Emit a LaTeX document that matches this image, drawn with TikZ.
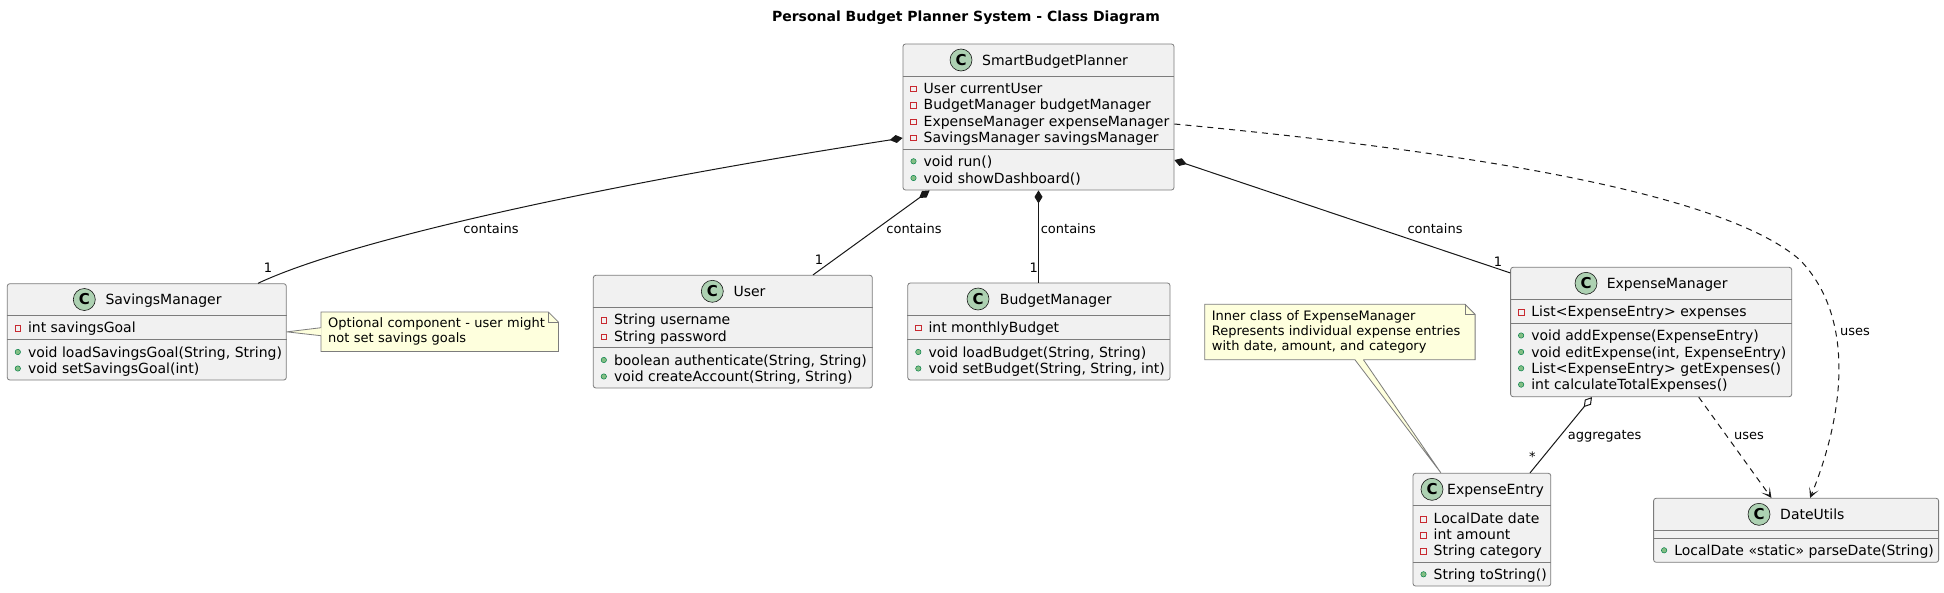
\documentclass[tikz,border=0pt]{standalone}
\usepackage{fontspec}
\setmainfont{DejaVu Sans}
\usetikzlibrary{arrows.meta,backgrounds}
\definecolor{boxfill}{HTML}{F1F1F1}
\definecolor{linec}{HTML}{181818}
\definecolor{boxdraw}{HTML}{7C7C7C}
\definecolor{iconfill}{HTML}{ADD1B2}
\definecolor{notefill}{HTML}{FEFFDD}
\definecolor{privc}{HTML}{C82930}
\definecolor{pubfill}{HTML}{84BE84}
\definecolor{pubdraw}{HTML}{038048}
\newcounter{mc}
\newcommand\umlmember[4]{%
  \stepcounter{mc}%
  \if#3p\path[fill=pubfill,draw=pubdraw,line width=0.5pt] (#1+10.5,#2) circle[radius=2.7];%
  \else\draw[privc,line width=0.8pt] (#1+7.7,#2-2) rectangle (#1+13.3,#2+3.6);\fi
  \node[member] (mem\arabic{mc}) at (#1+20.5,#2+5) {#4};}
\tikzset{
  classbox/.style={draw=boxdraw, line width=0.8pt, fill=boxfill, rounded corners=2.5pt, inner sep=0pt},
  sepline/.style={draw=boxdraw, line width=0.8pt},
  cicon/.style={circle, draw=linec, line width=0.6pt, fill=iconfill, minimum size=22pt, inner sep=0pt, font=\fontsize{15}{15}\selectfont\bfseries},
  cname/.style={anchor=base west, inner sep=0pt, font=\fontsize{14}{16}\selectfont},
  member/.style={anchor=base west, inner sep=0pt, font=\fontsize{14}{16}\selectfont},
  elabel/.style={inner sep=0pt, font=\fontsize{13}{15}\selectfont},
  notebox/.style={anchor=north west, inner xsep=7pt, inner ysep=0pt, align=left, font=\fontsize{13}{15}\selectfont},
  notepath/.style={fill=notefill, draw=boxdraw, line width=0.8pt},
  compo/.style={draw=linec, line width=1pt, {Diamond[length=13pt,width=8pt]}-},
  aggr/.style={draw=linec, line width=1pt, {Diamond[length=13pt,width=8pt,fill=white]}-},
  dep/.style={draw=linec, line width=1pt, dash pattern=on 6pt off 5pt, -{Stealth[length=10pt,width=10pt,inset=6pt]}},
}
\begin{document}
\begin{tikzpicture}[x=1pt,y=-1pt]
\begin{pgfonlayer}{background}
\fill[white] (0,0) rectangle (1944,592);
\end{pgfonlayer}
\useasboundingbox (0,0) rectangle (1944,592);

\node[font=\fontsize{14}{16}\selectfont\bfseries, inner sep=0pt] (title) at (966,18) {Personal Budget Planner System - Class Diagram};

% ---------- SmartBudgetPlanner ----------
\node[classbox, minimum width=271pt, minimum height=146pt] (spb) at (1038.5,117) {};
\draw[sepline] (spb.west |- 0,76) -- (spb.east |- 0,76);
\draw[sepline] (spb.west |- 0,149.5) -- (spb.east |- 0,149.5);
\node[cicon] (spbicon) at (961,60) {C};
\node[cname] (spbname) at (982,65) {SmartBudgetPlanner};
\umlmember{903}{88}{v}{User currentUser}
\umlmember{903}{104.5}{v}{BudgetManager budgetManager}
\umlmember{903}{121}{v}{ExpenseManager expenseManager}
\umlmember{903}{137}{v}{SavingsManager savingsManager}
\umlmember{903}{161.3}{p}{void run()}
\umlmember{903}{178}{p}{void showDashboard()}

% ---------- SavingsManager ----------
\node[classbox, minimum width=279pt, minimum height=96.3pt] (sav) at (146.8,331.85) {};
\draw[sepline] (sav.west |- 0,315.5) -- (sav.east |- 0,315.5);
\draw[sepline] (sav.west |- 0,339.3) -- (sav.east |- 0,339.3);
\node[cicon] (savicon) at (84.3,299.5) {C};
\node[cname] (savname) at (105.3,304.5) {SavingsManager};
\umlmember{7.3}{327.7}{v}{int savingsGoal}
\umlmember{7.3}{352}{p}{void loadSavingsGoal(String, String)}
\umlmember{7.3}{368.5}{p}{void setSavingsGoal(int)}

% ---------- User ----------
\node[classbox, minimum width=279pt, minimum height=112.7pt] (user) at (732.8,331.65) {};
\draw[sepline] (user.west |- 0,307.5) -- (user.east |- 0,307.5);
\draw[sepline] (user.west |- 0,347.7) -- (user.east |- 0,347.7);
\node[cicon] (usericon) at (712.3,291.3) {C};
\node[cname] (username) at (733.3,296.3) {User};
\umlmember{593.3}{319.3}{v}{String username}
\umlmember{593.3}{336}{v}{String password}
\umlmember{593.3}{360}{p}{boolean authenticate(String, String)}
\umlmember{593.3}{376.5}{p}{void createAccount(String, String)}

% ---------- BudgetManager ----------
\node[classbox, minimum width=262.2pt, minimum height=97pt] (budget) at (1038.9,331.5) {};
\draw[sepline] (budget.west |- 0,315) -- (budget.east |- 0,315);
\draw[sepline] (budget.west |- 0,339) -- (budget.east |- 0,339);
\node[cicon] (budgeticon) at (978,299) {C};
\node[cname] (budgetname) at (999.7,304) {BudgetManager};
\umlmember{907.8}{327}{v}{int monthlyBudget}
\umlmember{907.8}{352}{p}{void loadBudget(String, String)}
\umlmember{907.8}{368.5}{p}{void setBudget(String, String, int)}

% ---------- ExpenseManager ----------
\node[classbox, minimum width=281.1pt, minimum height=129.4pt] (em) at (1651.15,332) {};
\draw[sepline] (em.west |- 0,299.3) -- (em.east |- 0,299.3);
\draw[sepline] (em.west |- 0,323.7) -- (em.east |- 0,323.7);
\node[cicon] (emicon) at (1586,283.3) {C};
\node[cname] (emname) at (1606.6,288.3) {ExpenseManager};
\umlmember{1510.6}{311.3}{v}{List<ExpenseEntry> expenses}
\umlmember{1510.6}{335.5}{p}{void addExpense(ExpenseEntry)}
\umlmember{1510.6}{352}{p}{void editExpense(int, ExpenseEntry)}
\umlmember{1510.6}{368.3}{p}{List<ExpenseEntry> getExpenses()}
\umlmember{1510.6}{384.6}{p}{int calculateTotalExpenses()}

% ---------- ExpenseEntry ----------
\node[classbox, minimum width=137.8pt, minimum height=112.7pt] (ee) at (1481.9,529.65) {};
\draw[sepline] (ee.west |- 0,505.3) -- (ee.east |- 0,505.3);
\draw[sepline] (ee.west |- 0,562.3) -- (ee.east |- 0,562.3);
\node[cicon] (eeicon) at (1432,489.3) {C};
\node[cname] (eename) at (1447,494.3) {ExpenseEntry};
\umlmember{1413}{518.3}{v}{LocalDate date}
\umlmember{1413}{534.5}{v}{int amount}
\umlmember{1413}{550.5}{v}{String category}
\umlmember{1413}{574.3}{p}{String toString()}

% ---------- DateUtils ----------
\node[classbox, minimum width=285pt, minimum height=64pt] (du) at (1796.1,530.3) {};
\draw[sepline] (du.west |- 0,530.3) -- (du.east |- 0,530.3);
\draw[sepline] (du.west |- 0,538.3) -- (du.east |- 0,538.3);
\node[cicon] (duicon) at (1759,514.3) {C};
\node[cname] (duname) at (1780,519.3) {DateUtils};
\umlmember{1653.6}{550.3}{p}{LocalDate «static» parseDate(String)}

% ---------- Notes ----------
\node[notebox, text width=223pt, minimum height=39pt] (note1) at (321,312) {Optional component - user might\\not set savings goals};
\node[notebox, text width=256pt, minimum height=55pt] (note2) at (1204.7,304.3) {Inner class of ExpenseManager\\Represents individual expense entries\\with date, amount, and category};
\begin{pgfonlayer}{background}
  \path[notepath] (note1.north west) -- ([xshift=-10pt]note1.north east) -- ([yshift=-10pt]note1.north east) -- (note1.south east) -- (note1.south west) -- cycle;
  \path[notepath] (note2.north west) -- ([xshift=-10pt]note2.north east) -- ([yshift=-10pt]note2.north east) -- (note2.south east) -- (note2.south west) -- cycle;
  \fill[notefill] (sav.east) -- ([yshift=4pt,xshift=0.5pt]note1.west) -- ([yshift=-4pt,xshift=0.5pt]note1.west) -- cycle;
  \draw[boxdraw, line width=0.8pt] ([yshift=4pt]note1.west) -- (sav.east) -- ([yshift=-4pt]note1.west);
  \fill[notefill] ([xshift=15pt,yshift=0.5pt]note2.south) -- ([xshift=-41pt]ee.north) -- ([xshift=23.5pt,yshift=0.5pt]note2.south) -- cycle;
  \draw[boxdraw, line width=0.8pt] ([xshift=15pt]note2.south) -- ([xshift=-41pt]ee.north) -- ([xshift=23.5pt]note2.south);
\end{pgfonlayer}
\draw[boxdraw, line width=0.8pt] ([xshift=-10pt]note1.north east) -- ([xshift=-10pt,yshift=-10pt]note1.north east) -- ([yshift=-10pt]note1.north east);
\draw[boxdraw, line width=0.8pt] ([xshift=-10pt]note2.north east) -- ([xshift=-10pt,yshift=-10pt]note2.north east) -- ([yshift=-10pt]note2.north east);

% ---------- Connectors ----------
\draw[compo] ([yshift=-21pt]spb.west) .. controls (600,185) and (350,240) .. ([xshift=111.2pt]sav.north);
\node[elabel] (l1) at (491,229) {contains};
\node[elabel] (m1) at (268,268) {1};

\draw[compo] ([xshift=-108.9pt]spb.south) -- ([xshift=80.2pt]user.north);
\node[elabel] (l2) at (914,229) {contains};
\node[elabel] (m2) at (819,260) {1};

\draw[compo] (spb.south) -- (spb.south |- budget.north);
\node[elabel, anchor=west] (l3) at (1040.6,229) {contains};
\node[elabel] (m3) at (1033.7,268) {1};

\draw[compo] ([yshift=-43pt]spb.east) -- ([yshift=-6pt]em.north west);
\node[elabel] (l4) at (1435,229) {contains};
\node[elabel] (m4) at (1498,262) {1};

\draw[dep] ([yshift=-7pt]spb.east) .. controls (1450,150) and (1720,190) .. (1800,260) .. controls (1858,320) and (1842,420) .. ([xshift=14pt]du.north);
\node[elabel] (l5) at (1855,332) {uses};

\draw[aggr] ([xshift=-59.15pt]em.south) -- ([xshift=48.1pt]ee.north);
\node[elabel] (l6) at (1604.6,436) {aggregates};
\node[elabel] (m6) at (1532.4,457) {*};

\draw[dep] ([xshift=47.55pt]em.south) -- ([xshift=-24.7pt]du.north);
\node[elabel] (l7) at (1749,436) {uses};
\end{tikzpicture}
\end{document}
